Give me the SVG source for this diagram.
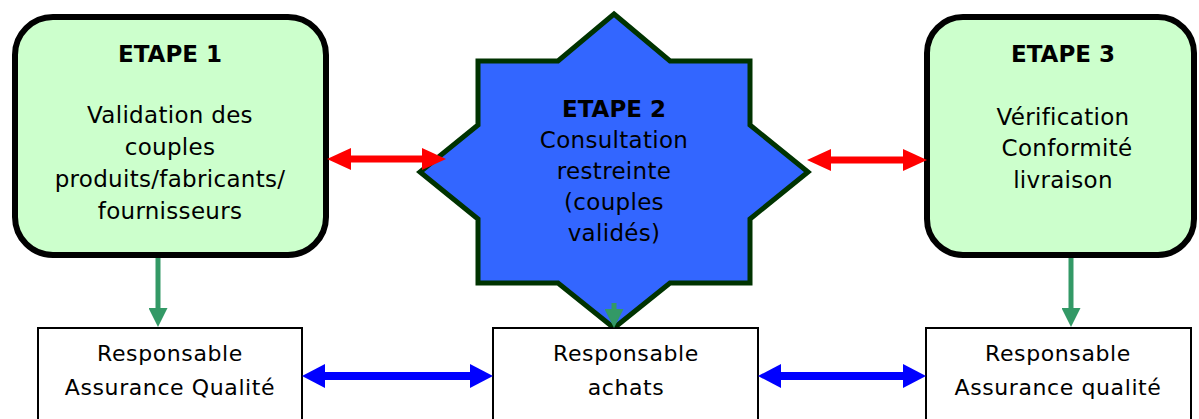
<svg xmlns="http://www.w3.org/2000/svg" width="1199" height="419" viewBox="0 0 1199 419">
<style>
  text { font-family: "DejaVu Sans", "Liberation Sans", sans-serif; fill: #000; text-anchor: middle; }
  .t { font-size: 23px; letter-spacing: 0.3px; }
  .b { font-size: 23px; font-weight: bold; }
  .s { font-size: 22px; letter-spacing: 0.6px; }
  .etape { fill: #CCFFCC; stroke: #000; stroke-width: 6; }
  .star { fill: #3366FF; stroke: #003300; stroke-width: 5; stroke-linejoin: miter; }
  .resp { fill: #FFFFFF; stroke: #000; stroke-width: 2; }
  .red { stroke: #FF0000; stroke-width: 7; fill: none; }
  .blue { stroke: #0000FF; stroke-width: 8; fill: none; }
  .green { stroke: #339966; stroke-width: 5; fill: none; }
</style>
<defs>
  <marker id="mRed" markerUnits="userSpaceOnUse" markerWidth="24" markerHeight="22" refX="4" refY="11" orient="auto-start-reverse" viewBox="0 0 24 22">
    <path d="M0,0 L24,11 L0,22 z" fill="#FF0000"/>
  </marker>
  <marker id="mBlue" markerUnits="userSpaceOnUse" markerWidth="23" markerHeight="24" refX="3" refY="12" orient="auto-start-reverse" viewBox="0 0 23 24">
    <path d="M0,0 L23,12 L0,24 z" fill="#0000FF"/>
  </marker>
  <marker id="mGreen" markerUnits="userSpaceOnUse" markerWidth="19" markerHeight="19" refX="3" refY="9.5" orient="auto" viewBox="0 0 19 19">
    <path d="M0,0 L19,9.5 L0,19 z" fill="#339966"/>
  </marker>
</defs>

<g id="etape1">
  <rect class="etape" x="15" y="17" width="311" height="238" rx="38" ry="38"/>
  <text class="b" x="170" y="62">ETAPE 1</text>
  <text class="t" x="170" y="123">Validation des</text>
  <text class="t" x="170" y="155">couples</text>
  <text class="t" x="170" y="187">produits/fabricants/</text>
  <text class="t" x="170" y="219">fournisseurs</text>
</g>

<g id="etape2">
  <polygon class="star" points="614,14 670,61 750,61 750,125 808,172 750,219 750,283 670,283 614,328 558,283 478,283 478,219 420,172 478,125 478,61 558,61"/>
  <text class="b" x="614" y="117">ETAPE 2</text>
  <text class="t" x="614" y="148">Consultation</text>
  <text class="t" x="614" y="179">restreinte</text>
  <text class="t" x="614" y="210">(couples</text>
  <text class="t" x="614" y="241">validés)</text>
</g>

<g id="etape3">
  <rect class="etape" x="927" y="17" width="267" height="238" rx="36" ry="36"/>
  <text class="b" x="1063" y="62">ETAPE 3</text>
  <text class="t" x="1063" y="125">Vérification</text>
  <text class="t" x="1067" y="156">Conformité</text>
  <text class="t" x="1063" y="188">livraison</text>
</g>

<g id="resp-aq1">
  <rect class="resp" x="38" y="328" width="264" height="120"/>
  <text class="s" x="170" y="361">Responsable</text>
  <text class="s" x="170" y="395">Assurance Qualité</text>
</g>

<g id="resp-achats">
  <rect class="resp" x="493" y="328" width="265" height="120"/>
  <text class="s" x="626" y="361">Responsable</text>
  <text class="s" x="626" y="395">achats</text>
</g>

<g id="resp-aq3">
  <rect class="resp" x="926" y="328" width="265" height="120"/>
  <text class="s" x="1058" y="361">Responsable</text>
  <text class="s" x="1058" y="395">Assurance qualité</text>
</g>

<g id="connectors">
  <line class="red" x1="347" y1="159" x2="426" y2="159" marker-start="url(#mRed)" marker-end="url(#mRed)"/>
  <line class="red" x1="827" y1="160" x2="907" y2="160" marker-start="url(#mRed)" marker-end="url(#mRed)"/>
  <line class="blue" x1="322" y1="376" x2="473" y2="376" marker-start="url(#mBlue)" marker-end="url(#mBlue)"/>
  <line class="blue" x1="778" y1="376" x2="906" y2="376" marker-start="url(#mBlue)" marker-end="url(#mBlue)"/>
  <line class="green" x1="158" y1="258" x2="158" y2="311" marker-end="url(#mGreen)"/>
  <line class="green" x1="614" y1="303" x2="614" y2="312" marker-end="url(#mGreen)"/>
  <line class="green" x1="1071" y1="258" x2="1071" y2="311" marker-end="url(#mGreen)"/>
</g>
</svg>
